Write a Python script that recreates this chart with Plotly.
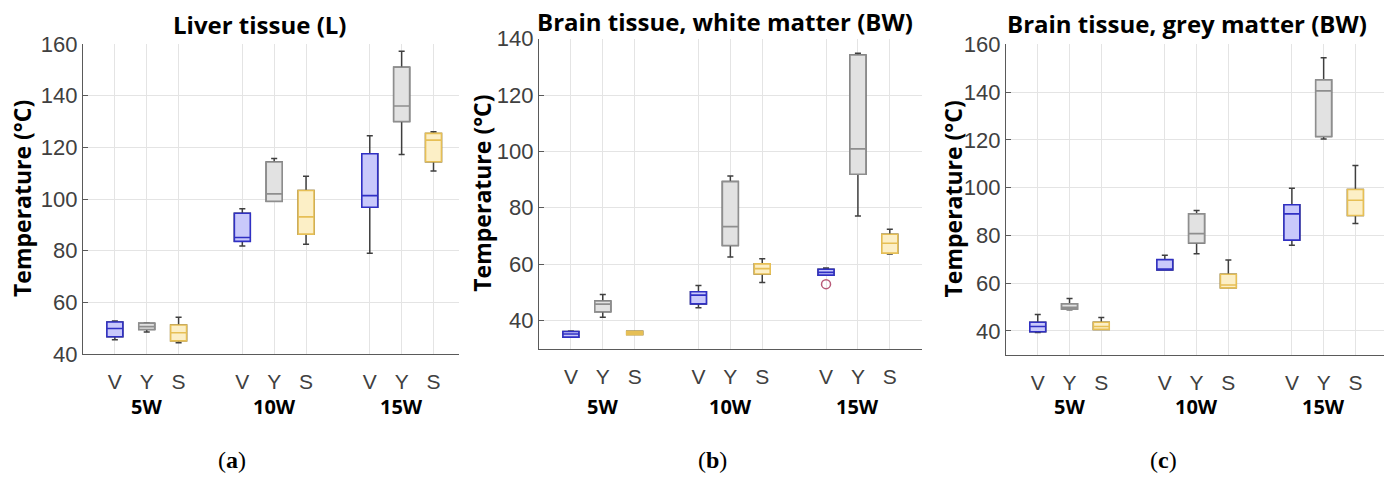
import plotly.graph_objects as go

# ---------------- data ----------------
positions = [1, 2, 3, 5, 6, 7, 9, 10, 11]
tick_labels = ["V", "Y", "S", "V", "Y", "S", "V", "Y", "S"]
groups = ["5W", "10W", "15W"]
group_pos = [2, 6, 10]
series = ["V", "Y", "S"]

# Liver tissue (L)
liver_low = [45.5, 48.5, 44.4, 81.8, 99.1, 82.5, 79.0, 117.2, 110.8]
liver_q1 = [46.7, 49.5, 45.1, 83.6, 99.1, 86.4, 96.8, 130.0, 114.4]
liver_med = [49.9, 50.6, 48.2, 85.1, 102.0, 93.1, 101.3, 136.0, 122.8]
liver_q3 = [52.4, 51.9, 51.2, 94.5, 114.3, 103.3, 117.5, 151.0, 125.4]
liver_high = [52.8, 52.0, 54.2, 96.2, 115.7, 108.8, 124.5, 157.2, 126.0]

# Brain tissue, white matter
white_low = [34.1, 41.2, 35.0, 44.5, 62.5, 53.5, 56.1, 77.1, 63.6]
white_q1 = [34.1, 43.1, 35.0, 45.9, 66.6, 56.5, 56.1, 91.9, 63.9]
white_med = [35.2, 45.8, 35.6, 49.0, 73.3, 58.4, 57.1, 100.9, 67.4]
white_q3 = [36.1, 46.9, 36.2, 50.2, 89.3, 60.1, 58.2, 134.2, 70.6]
white_high = [36.3, 49.2, 36.2, 52.4, 91.3, 61.9, 58.6, 134.8, 72.4]
white_outlier_x = [9]
white_outlier_y = [52.9]

# Brain tissue, grey matter
grey_low = [39.3, 48.8, 40.6, 65.5, 72.3, 58.0, 75.8, 120.3, 85.0]
grey_q1 = [39.6, 49.1, 40.6, 65.5, 76.8, 58.0, 78.0, 121.4, 88.3]
grey_med = [41.8, 49.8, 41.8, 65.8, 80.7, 59.2, 89.0, 140.5, 94.7]
grey_q3 = [43.6, 51.3, 43.6, 69.8, 89.0, 63.7, 92.8, 145.1, 99.2]
grey_high = [46.8, 53.5, 45.6, 71.6, 90.4, 69.7, 99.7, 154.4, 109.2]

titles = ["Liver tissue (L)", "Brain tissue, white matter (BW)", "Brain tissue, grey matter (BW)"]
panel_labels = ["a", "b", "c"]

# ---------------- style ----------------
fill_colors = {"V": "#c9c9fb", "Y": "#e2e2e2", "S": "#fcefc6"}
line_colors = {"V": "#3030c4", "Y": "#8e8e8e", "S": "#e6bf55"}
whisker_color = "#3f3f3f"
bold_font = "Open Sans"

panels = [
    dict(low=liver_low, q1=liver_q1, med=liver_med, q3=liver_q3, high=liver_high,
         xdom=[83/1392, 459/1392], ydom=[1-354/478, 1-44/478], yr=[40, 160], xr=[0, 11.8],
         title_x=259, title_y=24, ytitle_x=22, lab_x=232),
    dict(low=white_low, q1=white_q1, med=white_med, q3=white_q3, high=white_high,
         xdom=[539/1392, 921.7/1392], ydom=[1-348.7/478, 1-38.7/478], yr=[30, 140], xr=[0, 12.0],
         title_x=724.7, title_y=22, ytitle_x=482, lab_x=712),
    dict(low=grey_low, q1=grey_q1, med=grey_med, q3=grey_q3, high=grey_high,
         xdom=[1006/1392, 1384/1392], ydom=[1-354.7/478, 1-44.3/478], yr=[30, 160], xr=[0, 11.9],
         title_x=1187, title_y=23, ytitle_x=952, lab_x=1163),
]

fig = go.Figure()
annotations = []
layout_axes = {}

for p_i, p in enumerate(panels):
    sfx = "" if p_i == 0 else str(p_i + 1)
    xa, ya = "x" + sfx, "y" + sfx
    for s_i, s in enumerate(series):
        idx = [k for k in range(len(positions)) if k % 3 == s_i]
        xs = [positions[k] for k in idx]
        # whisker layer (dark)
        fig.add_trace(go.Box(
            x=xs, q1=[p["q1"][k] for k in idx], median=[p["med"][k] for k in idx],
            q3=[p["q3"][k] for k in idx], lowerfence=[p["low"][k] for k in idx],
            upperfence=[p["high"][k] for k in idx], width=0.5, whiskerwidth=0.38,
            line=dict(color=whisker_color, width=1.5), fillcolor="white",
            boxpoints=False, showlegend=False, xaxis=xa, yaxis=ya, hoverinfo="skip"))
        # coloured box layer
        fig.add_trace(go.Box(
            x=xs, q1=[p["q1"][k] for k in idx], median=[p["med"][k] for k in idx],
            q3=[p["q3"][k] for k in idx], lowerfence=[p["q1"][k] for k in idx],
            upperfence=[p["q3"][k] for k in idx], width=0.5, whiskerwidth=0,
            line=dict(color=line_colors[s], width=1.6), fillcolor=fill_colors[s],
            boxpoints=False, showlegend=False, xaxis=xa, yaxis=ya))
    if p_i == 1:
        fig.add_trace(go.Scatter(
            x=white_outlier_x, y=white_outlier_y, mode="markers",
            marker=dict(symbol="circle-open", size=9, color="#b85a78", line=dict(width=1.5)),
            showlegend=False, xaxis=xa, yaxis=ya))

    layout_axes["xaxis" + sfx] = dict(
        domain=p["xdom"], range=p["xr"], anchor=ya, tickmode="array",
        tickvals=positions, ticktext=tick_labels, showgrid=True, gridcolor="#e4e4e4",
        zeroline=False, showline=True, linecolor="#5a5a5a", linewidth=1.2,
        ticks="", ticklabelstandoff=9, automargin=False,
        tickfont=dict(family="Liberation Sans, Arial", size=21, color="#404040"))
    layout_axes["yaxis" + sfx] = dict(
        domain=p["ydom"], range=p["yr"], anchor=xa, dtick=20, tick0=0, automargin=False,
        showgrid=True, gridcolor="#e4e4e4", zeroline=False, showline=True,
        linecolor="#5a5a5a", linewidth=1.2, ticks="inside", ticklen=5, tickcolor="#5a5a5a",
        tickfont=dict(family="Liberation Sans, Arial", size=22, color="#404040"))

    # title
    annotations.append(dict(text="<b>" + titles[p_i] + "</b>", x=p["title_x"] / 1392,
                            y=1 - p["title_y"] / 478, xref="paper", yref="paper",
                            showarrow=False, xanchor="center", yanchor="middle",
                            font=dict(family=bold_font, size=24, color="black")))
    # y title
    y_mid = (p["ydom"][0] + p["ydom"][1]) / 2
    annotations.append(dict(text="<b>Temperature (°C)</b>", x=p["ytitle_x"] / 1392, y=y_mid,
                            xref="paper", yref="paper", showarrow=False, textangle=-90,
                            xanchor="center", yanchor="middle",
                            font=dict(family=bold_font, size=23, color="black")))
    # group labels
    for g, gp in zip(groups, group_pos):
        annotations.append(dict(text="<b>" + g + "</b>", x=gp, y=1 - 406 / 478,
                                xref=xa, yref="paper", showarrow=False,
                                xanchor="center", yanchor="middle",
                                font=dict(family=bold_font, size=20, color="black")))
    # panel label
    annotations.append(dict(text="(<b>" + panel_labels[p_i] + "</b>)", x=p["lab_x"] / 1392,
                            y=1 - 460 / 478, xref="paper", yref="paper", showarrow=False,
                            xanchor="center", yanchor="middle",
                            font=dict(family="Liberation Serif", size=24, color="black")))

fig.update_layout(
    width=1392, height=478, margin=dict(l=0, r=0, t=0, b=0, pad=0, autoexpand=False),
    paper_bgcolor="white", plot_bgcolor="white", boxmode="overlay",
    annotations=annotations, **layout_axes)

fig.write_html("out.html")
